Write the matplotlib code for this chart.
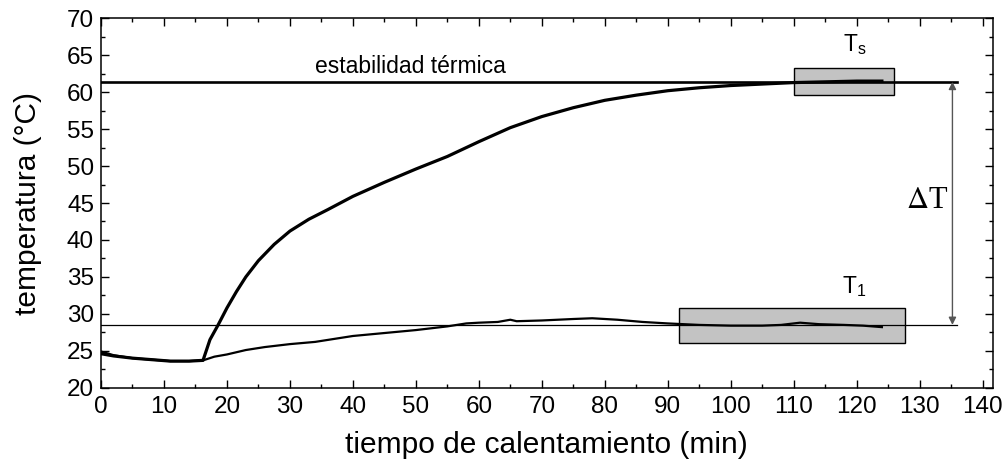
import matplotlib
matplotlib.use("Agg")
import matplotlib.pyplot as plt
from matplotlib.patches import Rectangle
from matplotlib.ticker import MultipleLocator

# curva de calentamiento (sensor en la superficie)
tiempo_s = [0, 2, 5, 8, 11, 14, 16.2, 17.3, 18.6, 20, 21.5, 23, 25, 27.5, 30, 33, 36, 40,
            45, 50, 55, 60, 65, 70, 75, 80, 85, 90, 95, 100, 105, 110, 115, 120, 124]
temp_s = [24.6, 24.3, 24.0, 23.8, 23.6, 23.6, 23.7, 26.5, 28.5, 30.8, 33.0, 35.0, 37.2, 39.4,
          41.2, 42.8, 44.1, 45.9, 47.8, 49.6, 51.3, 53.3, 55.2, 56.7, 57.9, 58.9, 59.6,
          60.2, 60.6, 60.9, 61.1, 61.3, 61.4, 61.5, 61.5]

# curva del sensor T1
tiempo_1 = [0, 2, 5, 8, 11, 14, 16.2, 18, 20, 23, 26, 30, 34, 37, 40, 45, 50, 55, 58, 60,
            63, 65, 66, 70, 75, 78, 82, 86, 90, 95, 100, 105, 108, 111, 114, 118, 121, 124]
temp_1 = [24.9, 24.4, 24.0, 23.8, 23.6, 23.6, 23.7, 24.2, 24.5, 25.1, 25.5, 25.9, 26.2, 26.6,
          27.0, 27.4, 27.8, 28.3, 28.7, 28.8, 28.9, 29.2, 29.0, 29.1, 29.3, 29.4, 29.2, 28.9,
          28.7, 28.5, 28.4, 28.4, 28.5, 28.8, 28.6, 28.5, 28.4, 28.2]

nivel_estable = 61.4
nivel_t1 = 28.5
fin_lineas = 136
x_flecha = 135.2
caja_ts = (110, 126, 59.6, 63.3)
caja_t1 = (91.8, 127.6, 26.1, 30.8)

plt.rcParams['font.family'] = ['Liberation Sans', 'DejaVu Sans']
plt.rcParams['mathtext.fontset'] = 'custom'
plt.rcParams['mathtext.rm'] = 'Liberation Sans'
plt.rcParams['mathtext.it'] = 'Liberation Sans:italic'

fig = plt.figure(figsize=(10.05, 4.67), dpi=100)
ax = fig.add_axes([0.1005, 0.1698, 0.8873, 0.791])

for (x0, x1, y0, y1) in [caja_ts, caja_t1]:
    ax.add_patch(Rectangle((x0, y0), x1 - x0, y1 - y0, facecolor='#c3c3c3',
                           edgecolor='black', lw=1.0, zorder=1))

ax.plot([0, fin_lineas], [nivel_estable, nivel_estable], color='black', lw=1.9, zorder=2)
ax.plot([0, fin_lineas], [nivel_t1, nivel_t1], color='black', lw=0.9, zorder=2)

ax.plot(tiempo_s, temp_s, color='black', lw=2.3, zorder=3, solid_joinstyle='round')
ax.plot(tiempo_1, temp_1, color='black', lw=1.6, zorder=3, solid_joinstyle='round')

ax.annotate('', xy=(x_flecha, nivel_estable), xytext=(x_flecha, nivel_t1),
            arrowprops=dict(arrowstyle='<|-|>', color='#555555', lw=1.0,
                            mutation_scale=11, shrinkA=0, shrinkB=0))

ax.text(34.0, 62.55, 'estabilidad térmica', fontsize=16.5, ha='left', va='baseline')
ax.text(117.8, 65.5, r'$\mathregular{T_s}$', fontsize=16.5, ha='left', va='baseline')
ax.text(117.7, 32.8, r'$\mathregular{T_1}$', fontsize=16.5, ha='left', va='baseline')
ax.text(131.1, 45.3, r'$\Delta$T', fontsize=22, ha='center', va='center',
        family=['Liberation Serif', 'DejaVu Serif'], math_fontfamily='stix')

ax.set_xlim(0, 141.6)
ax.set_ylim(20, 70)
ax.xaxis.set_major_locator(MultipleLocator(10))
ax.xaxis.set_minor_locator(MultipleLocator(5))
ax.yaxis.set_major_locator(MultipleLocator(5))
ax.yaxis.set_minor_locator(MultipleLocator(2.5))
ax.tick_params(which='both', direction='in', top=True, right=True, width=1.0)
ax.tick_params(which='major', length=5.5, labelsize=17.5)
ax.tick_params(which='minor', length=2.8)
ax.tick_params(axis='x', which='major', pad=6)
ax.tick_params(axis='y', which='major', pad=5)
for s in ax.spines.values():
    s.set_linewidth(1.1)

ax.set_xlabel('tiempo de calentamiento (min)', fontsize=21.5, labelpad=9)
ax.set_ylabel('temperatura (°C)', fontsize=21.5, labelpad=18)

fig.savefig('out.png', dpi=100)
